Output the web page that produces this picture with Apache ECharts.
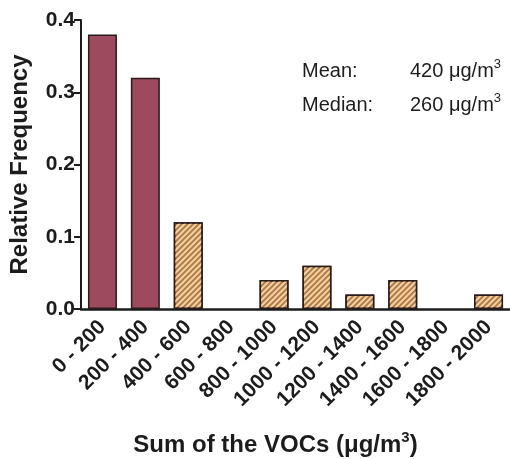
<!DOCTYPE html>
<html>
<head>
<meta charset="utf-8">
<script src="https://cdn.jsdelivr.net/npm/echarts@6/dist/echarts.min.js"></script>
<style>
  html, body { margin: 0; padding: 0; background: #fff; }
  #chart { width: 510px; height: 459px; }
</style>
</head>
<body>
<div id="chart"></div>
<script>
// histogram bins and relative frequencies
const categories = ['0 - 200', '200 - 400', '400 - 600', '600 - 800', '800 - 1000',
  '1000 - 1200', '1200 - 1400', '1400 - 1600', '1600 - 1800', '1800 - 2000']
const frequencies = [0.38, 0.32, 0.12, 0, 0.04, 0.06, 0.02, 0.04, 0, 0.02]
const yTicks = [0, 0.1, 0.2, 0.3, 0.4]
const stats = [
  { label: 'Mean:', value: '420' },
  { label: 'Median:', value: '260' }
]
// the first bins are drawn solid, the rest hatched
const solidBins = 2

const font = 'Liberation Sans, Arial, Helvetica, sans-serif'
const ink = '#1c1c1c'

const solidStyle = {
  color: '#9d4a5f',
  borderColor: '#2b1b1b',
  borderWidth: 1.5
}
const hatchStyle = {
  color: '#b27b4c',
  borderColor: '#2b1b1b',
  borderWidth: 1.5,
  decal: {
    symbol: 'rect',
    symbolSize: 1,
    color: '#f3d3a0',
    dashArrayX: [1, 0],
    dashArrayY: [1.5, 1.5],
    rotation: -Math.PI / 4
  }
}

const barData = frequencies.map((v, i) => {
  let style = i < solidBins ? solidStyle : hatchStyle
  // empty bins leave no outline on the axis
  if (v === 0) style = Object.assign({}, style, { borderWidth: 0 })
  return { value: v, itemStyle: style }
})

const statText = stats.map((s, i) => ({
  type: 'text',
  left: 302,
  top: 58 + i * 34,
  style: {
    text: '{l|' + s.label + '}{v|' + s.value + ' μg/m}{s|3}',
    fill: ink,
    rich: {
      l: { width: 108, fontSize: 20, lineHeight: 26, fontFamily: font, fill: ink },
      v: { fontSize: 20, lineHeight: 26, fontFamily: font, fill: ink },
      s: { fontSize: 13, lineHeight: 14, fontFamily: font, verticalAlign: 'top', fill: ink }
    }
  }
}))

const chart = echarts.init(document.getElementById('chart'))
chart.setOption({
  animation: false,
  grid: { left: 81, right: 0, top: 20, bottom: 150, containLabel: false, outerBoundsMode: 'none' },
  xAxis: {
    type: 'category',
    data: categories,
    name: '{t|Sum of the VOCs (μg/m}{sup|3}{t|)}',
    nameLocation: 'middle',
    nameGap: 121,
    nameTextStyle: {
      padding: [0, 40, 0, 0],
      rich: {
        t: { fontSize: 24, lineHeight: 30, fontWeight: 'bold', fontFamily: font, color: ink },
        sup: { fontSize: 15, lineHeight: 15, fontWeight: 'bold', fontFamily: font, verticalAlign: 'top', color: ink }
      }
    },
    axisLine: { lineStyle: { color: ink, width: 2.5 } },
    axisTick: { show: false },
    axisLabel: {
      interval: 0,
      rotate: 45,
      margin: 15,
      fontFamily: font,
      fontWeight: 'bold',
      fontSize: 21,
      color: ink
    }
  },
  yAxis: {
    type: 'value',
    min: yTicks[0],
    max: yTicks[yTicks.length - 1],
    interval: 0.1,
    name: 'Relative Frequency',
    nameLocation: 'middle',
    nameGap: 49,
    nameTextStyle: { fontFamily: font, fontWeight: 'bold', fontSize: 24, color: ink },
    axisLine: { show: true, lineStyle: { color: ink, width: 2 } },
    axisTick: { show: true, length: 7, lineStyle: { color: ink, width: 2 } },
    splitLine: { show: false },
    axisLabel: {
      margin: 6,
      fontFamily: font,
      fontWeight: 'bold',
      fontSize: 21,
      color: ink,
      formatter: v => v.toFixed(1)
    }
  },
  series: [{
    type: 'bar',
    data: barData,
    barWidth: 29
  }],
  graphic: statText
})
</script>
</body>
</html>
